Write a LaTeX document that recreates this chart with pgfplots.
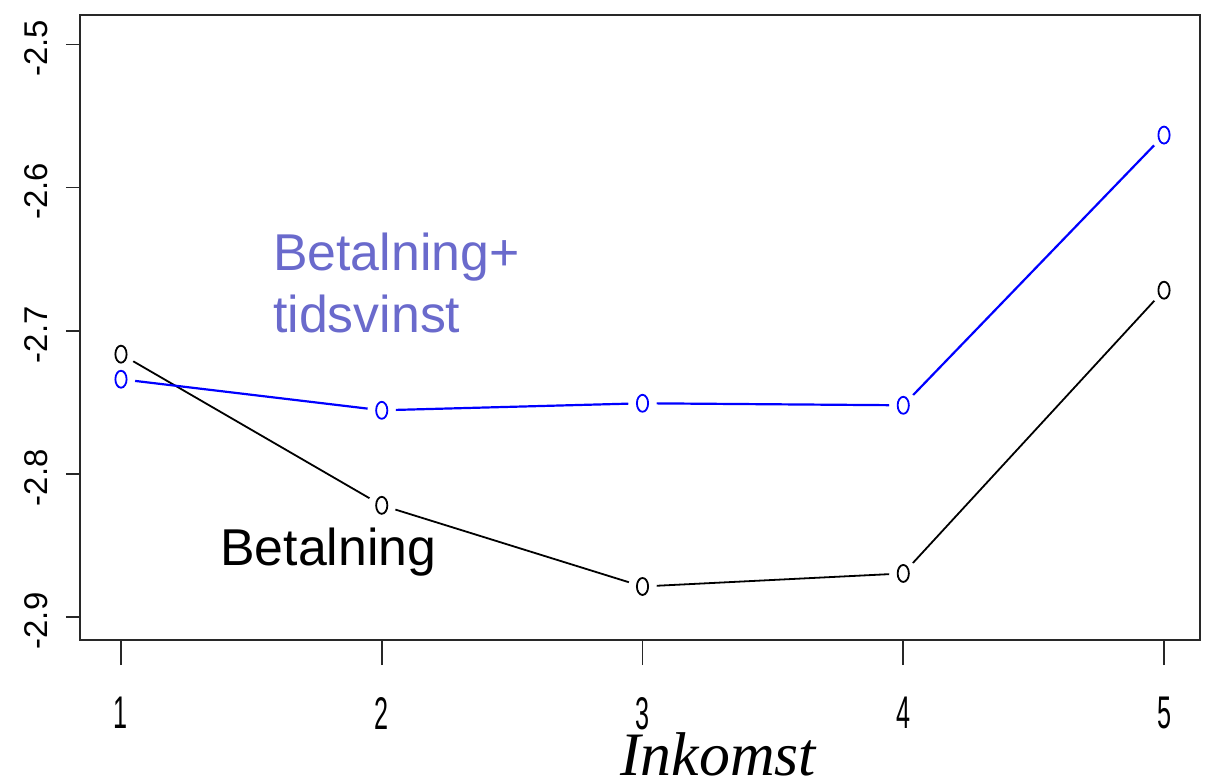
\documentclass[border=0pt]{standalone}
\usepackage{fontspec}
\setmainfont{Liberation Sans}
\newfontfamily\narrowfont[FakeStretch=0.55]{Liberation Sans}
\newfontfamily\timesfont{Liberation Serif}
\usepackage{pgfplots}
\pgfplotsset{compat=1.18}
\definecolor{labelblue}{RGB}{106,106,204}
\definecolor{frame}{RGB}{40,40,40}

\begin{document}
\begin{tikzpicture}
\begin{axis}[
  name=ax, at={(0,0)}, anchor=south west,
  scale only axis,
  width=1120bp, height=625bp,
  xmin=0.8428, xmax=5.138,
  ymin=-2.9161, ymax=-2.4794,
  axis line style={frame, line width=2bp},
  tick align=outside,
  xtick pos=bottom, ytick pos=left,
  xtick={1,2,3,4,5},
  xticklabels={1,2,3,4,5},
  ytick={-2.9,-2.8,-2.7,-2.6,-2.5},
  yticklabels={-2.9,-2.8,-2.7,-2.6,-2.5},
  x tick style={frame, line width=1.6bp, /pgfplots/major tick length=25bp},
  y tick style={frame, line width=1.6bp, /pgfplots/major tick length=14bp},
  major tick length=14bp,
  xticklabel style={font=\narrowfont\fontsize{46}{46}\selectfont, anchor=north, inner sep=0pt, yshift=-43bp},
  yticklabel style={font=\fontsize{33}{33}\selectfont, rotate=90, anchor=south, inner sep=0pt, xshift=-4bp, yshift=18bp},
  clip=false,
]
% Betalning (black) and Betalning + tidsvinst (blue)
\addplot[black, line width=1.8bp] coordinates {
  (1,-2.7164) (2,-2.8220) (3,-2.8787) (4,-2.8696) (5,-2.6717)};
\addplot[blue, line width=2.2bp] coordinates {
  (1,-2.7339) (2,-2.7556) (3,-2.7507) (4,-2.7521) (5,-2.5633)};
% gaps around the points, as with type "b"
\addplot[white, only marks, mark=*, mark size=14bp, mark options={draw=white, fill=white}] coordinates {
  (1,-2.7164) (2,-2.8220) (3,-2.8787) (4,-2.8696) (5,-2.6717)
  (1,-2.7339) (2,-2.7556) (3,-2.7507) (4,-2.7521) (5,-2.5633)};
\addplot[only marks, black, mark=o, mark size=8.5bp, mark options={xscale=0.66, line width=1.8bp}] coordinates {
  (1,-2.7164) (2,-2.8220) (3,-2.8787) (4,-2.8696) (5,-2.6717)};
\addplot[only marks, blue, mark=o, mark size=8.5bp, mark options={xscale=0.66, line width=1.8bp}] coordinates {
  (1,-2.7339) (2,-2.7556) (3,-2.7507) (4,-2.7521) (5,-2.5633)};

\node[anchor=base west, inner sep=0pt, text=labelblue, font=\fontsize{52}{52}\selectfont] at (axis cs:1.583,-2.6576) {Betalning+};
\node[anchor=base west, inner sep=0pt, text=labelblue, font=\fontsize{52}{52}\selectfont] at (axis cs:1.583,-2.7009) {tidsvinst};
\node[anchor=base west, inner sep=0pt, text=black, font=\fontsize{52}{52}\selectfont] at (axis cs:1.380,-2.8637) {Betalning};
\node[anchor=base, inner sep=0pt, font=\timesfont\itshape\fontsize{62}{62}\selectfont] at (axis cs:3.29,-3.0105) {Inkomst};
\end{axis}
\pgfresetboundingbox
\path[use as bounding box] (-80bp,-142bp) rectangle (1129bp,640bp);
\end{tikzpicture}
\end{document}
